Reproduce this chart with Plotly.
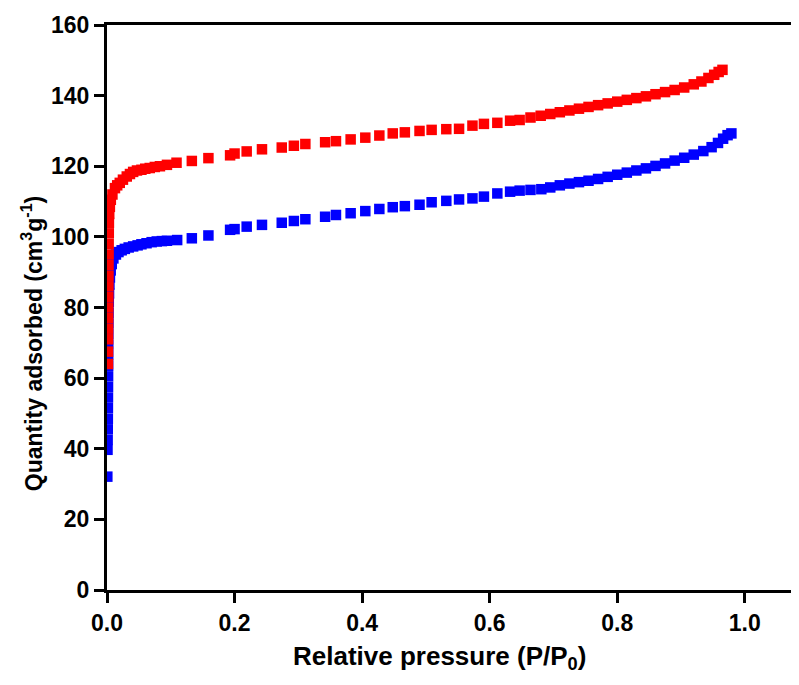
import plotly.graph_objects as go

# Red series (upper isotherm)
red_x = [0.0015, 0.0016, 0.0017, 0.0018, 0.0019, 0.0020, 0.0021, 0.0022, 0.0023, 0.0024, 0.0025, 0.0026, 0.0028, 0.0030, 0.0035, 0.0045,
         0.0060, 0.0085, 0.0125, 0.016, 0.020, 0.025, 0.031, 0.036, 0.041, 0.047, 0.054, 0.060, 0.067, 0.075, 0.083, 0.094,
         0.109, 0.133, 0.159, 0.193, 0.200, 0.219, 0.243, 0.274, 0.293, 0.311, 0.342, 0.359, 0.382, 0.405, 0.427, 0.448, 0.467,
         0.490, 0.509, 0.532, 0.552, 0.573, 0.591, 0.612, 0.632, 0.647, 0.664,
         0.680, 0.695, 0.710, 0.725, 0.740, 0.755, 0.770, 0.785, 0.800, 0.815, 0.830, 0.845, 0.860, 0.875, 0.890, 0.905,
         0.920, 0.932, 0.943, 0.952, 0.959, 0.965]
red_y = [64.0, 67.5, 71.0, 74.0, 77.0, 80.0, 83.0, 86.0, 89.0, 92.0, 95.0, 98.0, 101.0, 104.0, 106.5, 108.5,
         110.5, 112.0, 113.8, 114.6, 115.3, 116.2, 117.1, 117.8, 118.4, 118.8, 119.0, 119.3, 119.5, 119.8, 120.0, 120.4,
         121.0, 121.5, 122.3, 123.1, 123.6, 124.2, 124.8, 125.3, 125.8, 126.3, 126.8, 127.1, 127.6, 128.1, 128.7, 129.3, 129.6,
         130.0, 130.3, 130.5, 130.6, 131.5, 132.0, 132.3, 132.9, 133.1, 133.8,
         134.3, 134.8, 135.3, 135.8, 136.3, 136.8, 137.3, 137.8, 138.3, 138.8, 139.3, 139.8, 140.4, 141.0, 141.6, 142.3,
         143.2, 144.0, 145.0, 145.9, 146.7, 147.3]

# Blue series (lower isotherm)
blue_x = [0.0005, 0.0008, 0.0010, 0.0012, 0.0013, 0.0014, 0.0015, 0.0016, 0.0017, 0.0018, 0.0019, 0.0020, 0.0021, 0.0023,
          0.0025, 0.0028, 0.0032, 0.0038, 0.0046, 0.0058, 0.0075, 0.0100, 0.0140, 0.0180, 0.0230, 0.0280, 0.0340, 0.0410,
          0.0480, 0.0540, 0.0620, 0.0700, 0.0780, 0.0860, 0.0940,
          0.110, 0.133, 0.159, 0.193, 0.200, 0.219, 0.243, 0.274, 0.293, 0.311, 0.342, 0.359, 0.382, 0.405, 0.427, 0.448,
          0.467, 0.490, 0.509, 0.532, 0.552, 0.573, 0.591, 0.612, 0.632, 0.647, 0.664,
          0.681, 0.695, 0.710, 0.725, 0.740, 0.755, 0.770, 0.785, 0.800, 0.815, 0.830, 0.845, 0.860, 0.875, 0.890, 0.905,
          0.920, 0.935, 0.948, 0.958, 0.966, 0.973, 0.979]
blue_y = [32.1, 39.7, 42.5, 45.5, 48.5, 51.5, 54.5, 57.5, 60.5, 63.5, 66.5, 69.5, 72.5, 75.5,
          78.5, 81.5, 84.0, 86.5, 88.5, 90.5, 92.3, 93.9, 95.0, 95.7, 96.2, 96.6, 97.0, 97.3,
          97.6, 97.9, 98.2, 98.5, 98.7, 98.8, 98.9,
          99.1, 99.6, 100.4, 102.0, 102.2, 102.9, 103.4, 104.0, 104.5, 105.0, 105.7, 106.2, 106.7, 107.3, 107.9, 108.4,
          108.7, 109.1, 109.8, 110.2, 110.6, 110.9, 111.4, 112.3, 112.8, 113.1, 113.3,
          113.5, 114.0, 114.6, 115.1, 115.5, 115.9, 116.4, 117.0, 117.6, 118.2, 118.8, 119.4, 120.1, 120.8, 121.6, 122.4,
          123.3, 124.3, 125.4, 126.6, 127.8, 128.8, 129.3]

x_ticks = [0.0, 0.2, 0.4, 0.6, 0.8, 1.0]
y_ticks = [0, 20, 40, 60, 80, 100, 120, 140, 160]

x_title = "Relative pressure (P/P<sub>0</sub>)"
y_title = "Quantity adsorbed (cm<sup>3</sup>g<sup>-1</sup>)"

FONT = "Liberation Sans, Arial, sans-serif"

fig = go.Figure()
fig.add_trace(go.Scatter(x=blue_x, y=blue_y, mode="markers",
                         marker=dict(symbol="square", size=10.5, color="#0000ff", line=dict(width=0)),
                         showlegend=False))
fig.add_trace(go.Scatter(x=red_x, y=red_y, mode="markers",
                         marker=dict(symbol="square", size=10.5, color="#ff0000", line=dict(width=0)),
                         showlegend=False))

axis_common = dict(showgrid=False, zeroline=False, showline=True, linecolor="black", linewidth=3,
                   ticks="outside", ticklen=10, tickwidth=3, tickcolor="black",
                   tickfont=dict(family=FONT, size=23, color="black", weight="bold"))

fig.update_xaxes(range=[0, 1.085], tickvals=x_ticks, tickformat=".1f", mirror=True, **axis_common)
fig.update_yaxes(range=[0, 160], tickvals=y_ticks, mirror=False, **axis_common)

fig.add_annotation(text=x_title, xref="paper", yref="paper", x=0.481, y=-0.153,
                   xanchor="center", yanchor="bottom", showarrow=False,
                   font=dict(family=FONT, size=26, color="black", weight="bold"))
fig.add_annotation(text=y_title, xref="paper", yref="paper", x=-0.109, y=0.436,
                   xanchor="center", yanchor="middle", showarrow=False, textangle=-90,
                   font=dict(family=FONT, size=23, color="black", weight="bold"))

# page body has an 8px margin; size the figure so the plot area lands where the reference has it
fig.update_layout(width=791, height=669, margin=dict(l=99, r=0, t=17, b=87),
                  paper_bgcolor="white", plot_bgcolor="white")

fig.write_html("out.html")
